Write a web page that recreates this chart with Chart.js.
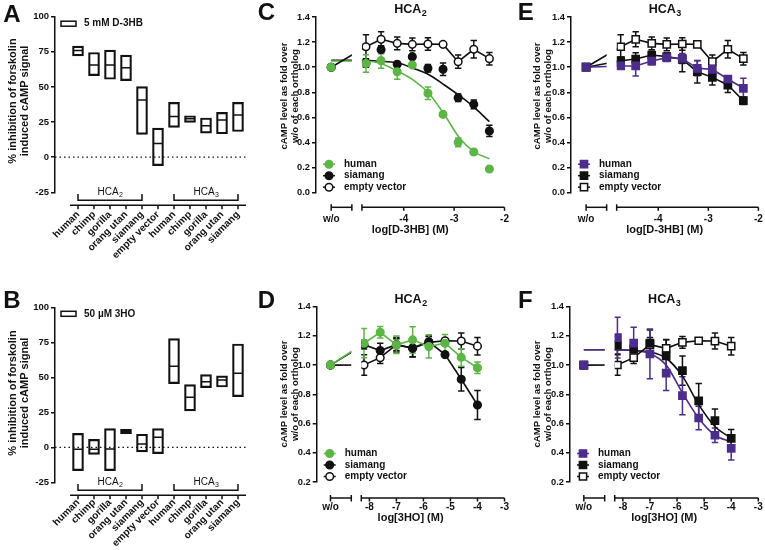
<!DOCTYPE html>
<html>
<head>
<meta charset="utf-8">
<script src="https://cdn.jsdelivr.net/npm/chart.js@4.4.1/dist/chart.umd.min.js"></script>
<style>
  body { margin: 0; background: #fff; }
  #page { position: relative; width: 765px; height: 550px; overflow: hidden; }
  canvas { position: absolute; }
</style>
</head>
<body>
<div id="page">
  <canvas id="cA" width="255" height="275" style="left:0;top:0"></canvas>
  <canvas id="cB" width="255" height="275" style="left:0;top:275px"></canvas>
  <canvas id="cC" width="255" height="275" style="left:255px;top:0"></canvas>
  <canvas id="cD" width="255" height="275" style="left:255px;top:275px"></canvas>
  <canvas id="cE" width="255" height="275" style="left:510px;top:0"></canvas>
  <canvas id="cF" width="255" height="275" style="left:510px;top:275px"></canvas>
</div>
<script>
// ---- panels A / B : % inhibition (min, max, mean boxes)
const orthologs = ['human', 'chimp', 'gorilla', 'orang utan', 'siamang', 'empty vector',
                   'human', 'chimp', 'gorilla', 'orang utan', 'siamang'];
const hbLow  = [72.1, 58.1, 55.5, 54.5, 16.2, -6.0, 21.2, 24.8, 17.1, 16.7, 18.3];
const hbHigh = [79.0, 74.5, 76.2, 72.6, 50.2, 20.7, 39.0, 29.5, 27.9, 31.9, 39.0];
const hbMid  = [76.0, 65.7, 65.7, 63.6, 40.7, 9.8, 29.0, 27.4, 22.4, 26.4, 30.0];
const hoLow  = [-16.7, -5.0, -16.7, 9.8, -3.3, -4.5, 45.5, 26.0, 42.6, 43.1, 36.2];
const hoHigh = [10.0, 5.7, 13.3, 12.9, 9.3, 13.3, 77.6, 44.8, 51.9, 51.0, 73.8];
const hoMid  = [-1.4, -1.4, -1.2, 11.4, 2.4, 7.1, 57.9, 35.7, 46.9, 48.1, 52.9];
const pctTicks = [-25, 0, 25, 50, 75, 100];
const groups = [{from: 0, to: 4, name: 'HCA', sub: '2'}, {from: 6, to: 10, name: 'HCA', sub: '3'}];

// ---- panels C / E : D-3HB dose response
const woLevel = 1.0;
const logHB = [-4.75, -4.45, -4.13, -3.83, -3.52, -3.22, -2.92, -2.61, -2.3];
const hbEmpty       = [1.163, 1.222, 1.19, 1.182, 1.185, 1.182, 1.044, 1.143, 1.068];
const hbEmptyErr    = [0.095, 0.06, 0.05, 0.05, 0.05, 0.015, 0.053, 0.07, 0.05];
const hca2HumanHB   = [1.03, 1.052, 0.964, 1.017, 0.792, 0.624, 0.401, 0.324, 0.189];
const hca2HumanHBErr = [0.07, 0.06, 0.06, 0.01, 0.05, 0.01, 0.035, 0.01, 0.01];
const hca2SiamHB    = [1.03, 1.14, 1.023, 1.084, 0.991, 0.983, 0.757, 0.704, 0.492];
const hca2SiamHBErr = [0.03, 0.03, 0.01, 0.01, 0.03, 0.05, 0.03, 0.035, 0.045];
const hca3HumanHB   = [1.01, 1.01, 1.049, 1.076, 1.07, 0.991, 0.983, 0.906, 0.832];
const hca3HumanHBErr = [0.02, 0.08, 0.03, 0.03, 0.04, 0.06, 0.025, 0.02, 0.08];
const hca3SiamHB    = [1.052, 1.065, 1.097, 1.084, 1.063, 0.964, 0.919, 0.858, 0.733];
const hca3SiamHBErr = [0.03, 0.05, 0.03, 0.03, 0.1, 0.09, 0.06, 0.06, 0.03];
// fitted curves
const fitHBx        = [-5.44, -4.83, -4.5, -4.13, -3.8, -3.5, -3.2, -2.9, -2.6, -2.3];
const fitHca2HumanHB = [1.05, 1.05, 1.035, 0.97, 0.895, 0.79, 0.627, 0.44, 0.325, 0.27];
const fitHca2SiamHB  = [1.055, 1.054, 1.048, 1.035, 0.99, 0.94, 0.86, 0.775, 0.68, 0.566];
const hbTicks = [-4, -3, -2];
const yTicksHB = [0, 0.2, 0.4, 0.6, 0.8, 1.0, 1.2, 1.4];

// ---- panels D / F : 3HO dose response
const logHO = [-8.2, -7.6, -7.0, -6.4, -5.8, -5.2, -4.6, -4.0];
const hoEmpty       = [1.001, 1.051, 1.14, 1.115, 1.156, 1.167, 1.165, 1.13];
const hoEmptyErr    = [0.07, 0.04, 0.05, 0.06, 0.04, 0.015, 0.055, 0.06];
const hca2HumanHO   = [1.15, 1.225, 1.139, 1.173, 1.128, 1.15, 1.053, 0.982];
const hca2HumanHOErr = [0.1, 0.04, 0.06, 0.09, 0.08, 0.06, 0.06, 0.04];
const hca2SiamHO    = [1.14, 1.1, 1.14, 1.117, 1.16, 1.072, 0.903, 0.727];
const hca2SiamHOErr = [0.03, 0.05, 0.04, 0.06, 0.04, 0.02, 0.08, 0.1];
const hca3HumanHO   = [1.188, 1.15, 1.077, 0.946, 0.791, 0.638, 0.52, 0.43];
const hca3HumanHOErr = [0.14, 0.11, 0.17, 0.12, 0.13, 0.08, 0.05, 0.08];
const hca3SiamHO    = [1.137, 1.109, 1.15, 1.063, 0.962, 0.755, 0.62, 0.499];
const hca3SiamHOErr = [0.06, 0.04, 0.09, 0.11, 0.1, 0.12, 0.08, 0.06];
// fitted curves
const fitHOx         = [-9.44, -8.3, -7.6, -7.0, -6.4, -5.8, -5.2, -4.6, -4.0];
const fitHca3HumanHO = [1.105, 1.105, 1.1, 1.08, 1.0, 0.81, 0.636, 0.52, 0.475];
const fitHca3SiamHO  = [1.105, 1.105, 1.1, 1.09, 1.047, 0.925, 0.73, 0.58, 0.5];
const hoTicks = [-8, -7, -6, -5, -4, -3];
const yTicksHO = [0.2, 0.4, 0.6, 0.8, 1.0, 1.2, 1.4];

const BLACK = '#111111', GREEN = '#5cb646', PURPLE = '#4c2d8c';
const FONT = '"Liberation Sans", Arial, Helvetica, sans-serif';
Chart.defaults.font.family = FONT;
Chart.defaults.font.weight = 'bold';
Chart.defaults.color = BLACK;

function subText(ctx, cx, cy, main, sub, size, weight) {
  ctx.font = weight + ' ' + size + 'px ' + FONT;
  const w1 = ctx.measureText(main).width;
  ctx.font = weight + ' ' + Math.round(size * 0.68) + 'px ' + FONT;
  const w2 = ctx.measureText(sub).width;
  const x0 = cx - (w1 + w2) / 2;
  ctx.textAlign = 'left';
  ctx.textBaseline = 'middle';
  ctx.fillStyle = BLACK;
  ctx.font = weight + ' ' + size + 'px ' + FONT;
  ctx.fillText(main, x0, cy);
  ctx.font = weight + ' ' + Math.round(size * 0.68) + 'px ' + FONT;
  ctx.fillText(sub, x0 + w1 + 0.5, cy + size * 0.32);
}

function seg(ctx, x1, y1, x2, y2) {
  ctx.beginPath(); ctx.moveTo(x1, y1); ctx.lineTo(x2, y2); ctx.stroke();
}

const panelPlugin = {
  id: 'panel',
  beforeDatasetsDraw(chart, args, o) {
    const {ctx, chartArea: a, scales: {x, y}} = chart;
    if (o.zeroLine) {
      ctx.save();
      ctx.setLineDash([1.5, 3]);
      ctx.lineWidth = 1.3;
      ctx.strokeStyle = BLACK;
      const yy = y.getPixelForValue(0);
      seg(ctx, a.left, yy, x.getPixelForValue(orthologs.length - 0.5), yy);
      ctx.restore();
    }
    ctx.save();
    if (o.gap) {
      const gl = x.getPixelForValue(o.gap[0]), gr = x.getPixelForValue(o.gap[1]);
      ctx.beginPath();
      ctx.rect(0, 0, gl, chart.height);
      ctx.rect(gr, 0, chart.width - gr, chart.height);
      ctx.clip();
    }
    // error bars under the markers
    for (let i = chart.data.datasets.length - 1; i >= 0; i--) {
      const ds = chart.data.datasets[i];
      if (!ds.errorBars) continue;
      const meta = chart.getDatasetMeta(i);
      ctx.strokeStyle = ds.borderColor;
      ctx.lineWidth = 1.5;
      meta.data.forEach((el, j) => {
        const e = ds.errorBars[j];
        if (!e) return;
        const v = ds.data[j].y;
        const t = y.getPixelForValue(v + e), b = y.getPixelForValue(v - e);
        seg(ctx, el.x, t, el.x, b);
        seg(ctx, el.x - 3.2, t, el.x + 3.2, t);
        seg(ctx, el.x - 3.2, b, el.x + 3.2, b);
      });
    }
  },
  afterDatasetsDraw(chart, args, o) {
    const {ctx, chartArea: a, scales: {x, y}} = chart;
    ctx.restore();
    ctx.save();
    ctx.strokeStyle = BLACK;
    ctx.fillStyle = BLACK;
    ctx.lineWidth = 1.5;

    // panel letter
    ctx.font = 'bold 24px ' + FONT;
    ctx.textAlign = 'center';
    ctx.textBaseline = 'middle';
    ctx.fillText(o.letter, o.letterAt[0], o.letterAt[1]);

    // y axis title (two rotated lines)
    ctx.font = 'bold ' + o.yTitleSize + 'px ' + FONT;
    o.yTitle.forEach((t, k) => {
      ctx.save();
      ctx.translate(o.yTitleX[k], o.yTitleY);
      ctx.rotate(-Math.PI / 2);
      ctx.fillText(t, 0, 0);
      ctx.restore();
    });

    if (o.title) subText(ctx, (a.left + a.right) / 2, a.top - 7, o.title[0], o.title[1], 12.5, 'bold');

    if (o.catAxis) {
      const yb = a.bottom + o.axisDrop;
      const n = orthologs.length;
      seg(ctx, x.getPixelForValue(-0.5), yb, x.getPixelForValue(n - 0.5), yb);
      for (let i = 0; i < n; i++) {
        const px = x.getPixelForValue(i);
        seg(ctx, px, yb, px, yb + 4);
      }
      groups.forEach(g => {
        const x1 = x.getPixelForValue(g.from), x2 = x.getPixelForValue(g.to);
        const yy = a.bottom + o.axisDrop - 5;
        ctx.beginPath();
        ctx.moveTo(x1, a.bottom + 1.7); ctx.lineTo(x1, yy); ctx.lineTo(x2, yy); ctx.lineTo(x2, a.bottom + 1.7);
        ctx.stroke();
        subText(ctx, (x1 + x2) / 2, a.bottom - 0.5, g.name, g.sub, 10, 'normal');
      });
      // legend: box symbol + label
      const ds = chart.data.datasets[0];
      ctx.strokeStyle = ds.borderColor;
      ctx.strokeRect(a.left + 6, a.top + o.legendDy - 2.5, 15, 5);
      ctx.fillStyle = BLACK;
      ctx.font = 'bold 10px ' + FONT;
      ctx.textAlign = 'left';
      ctx.textBaseline = 'middle';
      ctx.fillText(ds.label, a.left + 29, a.top + o.legendDy);
    }

    if (o.gap) {
      const yb = a.bottom + o.axisDrop;
      const p0 = x.getPixelForValue(o.wo), p1 = x.getPixelForValue(o.gap[0]);
      const p2 = x.getPixelForValue(o.gap[1]), p3 = a.right;
      seg(ctx, p0, yb, p1, yb);
      seg(ctx, p2, yb, p3, yb);
      [p0, p1, p2].forEach(p => seg(ctx, p, yb - 3, p, yb + 3.5));
      o.ticks.forEach(v => {
        const p = x.getPixelForValue(v);
        seg(ctx, p, yb, p, yb + 3.5);
      });
      // legend
      const items = chart.data.datasets.filter(d => d.legendLabel);
      items.forEach((d, k) => {
        const yy = a.bottom + o.legendY[k];
        const x0 = a.left + 7, x1 = a.left + 19;
        ctx.strokeStyle = d.borderColor;
        ctx.lineWidth = 1.5;
        seg(ctx, x0, yy, x1, yy);
        ctx.fillStyle = d.backgroundColor;
        Chart.helpers.drawPoint(ctx, {pointStyle: d.pointStyle, radius: d.pointRadius, borderWidth: 1.5, rotation: 0}, (x0 + x1) / 2, yy);
        ctx.fillStyle = BLACK;
        ctx.font = 'bold 10px ' + FONT;
        ctx.textAlign = 'left';
        ctx.textBaseline = 'middle';
        ctx.fillText(d.legendLabel, a.left + 28, yy);
      });
    }
    ctx.restore();
  }
};

function pointSet(label, wo, xs, ys, errs, color, style, open, joined) {
  return {
    type: 'scatter',
    label: label,
    legendLabel: label,
    data: [{x: wo, y: woLevel}].concat(xs.map((v, i) => ({x: v, y: ys[i]}))),
    errorBars: [0].concat(errs),
    showLine: joined,
    borderColor: color,
    borderWidth: 1.6,
    backgroundColor: open ? '#ffffff' : color,
    pointStyle: style,
    pointRadius: style === 'rect' ? 5.1 : 3.8,
    pointBorderWidth: 1.5,
    clip: false
  };
}

function fitSet(color, xs, ys) {
  return {
    type: 'scatter',
    data: xs.map((v, i) => ({x: v, y: ys[i]})),
    showLine: true,
    borderColor: color,
    borderWidth: 1.6,
    pointRadius: 0,
    cubicInterpolationMode: 'monotone',
    clip: false
  };
}

const doseYTitle = ['cAMP level as fold over', 'w/o of each ortholog'];
const pctYTitle = ['% inhibition of forskolin', 'induced cAMP signal'];

// g: canvas W,H and chart area L,T,R,B (canvas px)
function doseChart(id, g, c) {
  return new Chart(document.getElementById(id), {
    type: 'scatter',
    data: {datasets: c.datasets},
    options: {
      responsive: false,
      animation: false,
      events: [],
      layout: {padding: {left: 0, top: g.T, right: g.W - g.R, bottom: 0}},
      plugins: {
        legend: {display: false},
        tooltip: {enabled: false},
        panel: {letter: c.letter, letterAt: c.letterAt, title: c.title, gap: c.gap, wo: c.wo,
                ticks: c.xTicks, axisDrop: c.axisDrop, legendY: [-28.5, -17, -5.5],
                yTitle: doseYTitle, yTitleSize: 9.6, yTitleX: c.yTitleX, yTitleY: c.yTitleY}
      },
      scales: {
        x: {
          type: 'linear', min: c.xMin, max: c.xMax,
          afterBuildTicks: s => { s.ticks = [c.wo].concat(c.xTicks).map(v => ({value: v})); },
          afterFit: s => { s.height = g.H - g.B; s.paddingLeft = 0; s.paddingRight = 0; },
          ticks: {autoSkip: false, maxRotation: 0, padding: c.tickPad, font: {size: 10, weight: 'bold'},
                  callback: v => (v === c.wo ? 'w/o' : String(v))},
          grid: {display: false, drawTicks: false},
          border: {display: false},
          title: {display: true, text: c.xTitle, font: {size: 11, weight: 'bold'},
                  padding: {top: 0, bottom: c.xTitlePad}}
        },
        y: {
          min: c.yTicks[0], max: c.yTicks[c.yTicks.length - 1],
          afterBuildTicks: s => { s.ticks = c.yTicks.map(v => ({value: v})); },
          afterFit: s => { s.width = g.L; s.paddingTop = 0; s.paddingBottom = 0; },
          ticks: {padding: 2, font: {size: 9.3, weight: 'bold'}, callback: v => v.toFixed(1)},
          grid: {drawOnChartArea: false, color: BLACK, lineWidth: 1.5, tickLength: 4},
          border: {color: BLACK, width: 1.5}
        }
      }
    },
    plugins: [panelPlugin]
  });
}

function boxChart(id, g, c) {
  return new Chart(document.getElementById(id), {
    type: 'bar',
    data: {
      datasets: [
        {
          type: 'bar', label: c.label,
          data: c.low.map((v, i) => ({x: i, y: [v, c.high[i]]})),
          backgroundColor: 'rgba(255,255,255,0)', borderColor: BLACK, borderWidth: 1.5,
          borderSkipped: false, barThickness: 11
        },
        {
          type: 'scatter',
          data: c.mid.map((v, i) => ({x: i, y: v})),
          pointStyle: 'line', pointRadius: 5, borderColor: BLACK, borderWidth: 1.5, pointBorderWidth: 1.5
        }
      ]
    },
    options: {
      responsive: false,
      animation: false,
      events: [],
      layout: {padding: {left: 0, top: g.T, right: g.W - g.R, bottom: 0}},
      plugins: {
        legend: {display: false},
        tooltip: {enabled: false},
        panel: {letter: c.letter, letterAt: c.letterAt, catAxis: true, zeroLine: true,
                axisDrop: 13, legendDy: c.legendDy,
                yTitle: pctYTitle, yTitleSize: 11, yTitleX: [12.7, 25], yTitleY: c.yTitleY}
      },
      scales: {
        x: {
          type: 'linear', offset: false, min: -1.4375, max: orthologs.length - 0.5,
          afterBuildTicks: s => { s.ticks = orthologs.map((t, i) => ({value: i})); },
          afterFit: s => { s.height = g.H - g.B; s.paddingLeft = 0; s.paddingRight = 0; },
          ticks: {autoSkip: false, minRotation: 45, maxRotation: 45, padding: c.tickPad,
                  font: {size: 10, weight: 'bold'}, callback: v => orthologs[v]},
          grid: {display: false, drawTicks: false, offset: false},
          border: {display: false}
        },
        y: {
          min: -25, max: 100,
          afterBuildTicks: s => { s.ticks = pctTicks.map(v => ({value: v})); },
          afterFit: s => { s.width = g.L; s.paddingTop = 0; s.paddingBottom = 0; },
          ticks: {padding: 2, font: {size: 9.5, weight: 'bold'}},
          grid: {drawOnChartArea: false, color: BLACK, lineWidth: 1.5, tickLength: 4},
          border: {color: BLACK, width: 1.5}
        }
      }
    },
    plugins: [panelPlugin]
  });
}

boxChart('cA', {W: 255, H: 275, L: 55, T: 16.7, R: 246, B: 192.3},
  {letter: 'A', letterAt: [12, 15], label: '5 mM D-3HB', low: hbLow, high: hbHigh, mid: hbMid,
   legendDy: 7, tickPad: 16.5, yTitleY: 101});
boxChart('cB', {W: 255, H: 275, L: 55, T: 32.3, R: 246, B: 207.3},
  {letter: 'B', letterAt: [12, 26.5], label: '50 \u00b5M 3HO', low: hoLow, high: hoHigh, mid: hoMid,
   legendDy: 6.5, tickPad: 14.5, yTitleY: 118});

const WO_HB = -5.44, WO_HO = -9.44;

doseChart('cC', {W: 255, H: 275, L: 61, T: 17, R: 250.7, B: 192.7}, {
  letter: 'C', letterAt: [11.5, 13], title: ['HCA', '2'],
  xMin: -5.742, xMax: -2, wo: WO_HB, gap: [-5.03, -4.83], xTicks: hbTicks, yTicks: yTicksHB,
  axisDrop: 14.6, tickPad: 20.6, xTitle: 'log[D-3HB] (M)', xTitlePad: 38.4,
  yTitleX: [29, 40], yTitleY: 96,
  datasets: [
    pointSet('human', WO_HB, logHB, hca2HumanHB, hca2HumanHBErr, GREEN, 'circle', false, false),
    pointSet('siamang', WO_HB, logHB, hca2SiamHB, hca2SiamHBErr, BLACK, 'circle', false, false),
    pointSet('empty vector', WO_HB, logHB, hbEmpty, hbEmptyErr, BLACK, 'circle', true, true),
    fitSet(GREEN, fitHBx, fitHca2HumanHB),
    fitSet(BLACK, fitHBx, fitHca2SiamHB)
  ]
});

doseChart('cE', {W: 255, H: 275, L: 61, T: 17, R: 250, B: 192.7}, {
  letter: 'E', letterAt: [15.8, 13], title: ['HCA', '3'],
  xMin: -5.742, xMax: -2, wo: WO_HB, gap: [-5.03, -4.83], xTicks: hbTicks, yTicks: yTicksHB,
  axisDrop: 14.6, tickPad: 20.6, xTitle: 'log[D-3HB] (M)', xTitlePad: 38.4,
  yTitleX: [27, 38], yTitleY: 96,
  datasets: [
    pointSet('human', WO_HB, logHB, hca3HumanHB, hca3HumanHBErr, PURPLE, 'rect', false, true),
    pointSet('siamang', WO_HB, logHB, hca3SiamHB, hca3SiamHBErr, BLACK, 'rect', false, true),
    pointSet('empty vector', WO_HB, logHB, hbEmpty, hbEmptyErr, BLACK, 'rect', true, true)
  ]
});

doseChart('cD', {W: 255, H: 275, L: 61.7, T: 31.7, R: 252.3, B: 207}, {
  letter: 'D', letterAt: [11.5, 26], title: ['HCA', '2'],
  xMin: -9.95, xMax: -3, wo: WO_HO, gap: [-8.67, -8.3], xTicks: hoTicks, yTicks: yTicksHO,
  axisDrop: 16, tickPad: 19.3, xTitle: 'log[3HO] (M)', xTitlePad: 25.1,
  yTitleX: [29, 40], yTitleY: 119,
  datasets: [
    pointSet('human', WO_HO, logHO, hca2HumanHO, hca2HumanHOErr, GREEN, 'circle', false, true),
    pointSet('siamang', WO_HO, logHO, hca2SiamHO, hca2SiamHOErr, BLACK, 'circle', false, true),
    pointSet('empty vector', WO_HO, logHO, hoEmpty, hoEmptyErr, BLACK, 'circle', true, true)
  ]
});

doseChart('cF', {W: 255, H: 275, L: 60, T: 31.7, R: 248.3, B: 207}, {
  letter: 'F', letterAt: [15.3, 26], title: ['HCA', '3'],
  xMin: -9.95, xMax: -3, wo: WO_HO, gap: [-8.67, -8.3], xTicks: hoTicks, yTicks: yTicksHO,
  axisDrop: 16, tickPad: 19.3, xTitle: 'log[3HO] (M)', xTitlePad: 25.1,
  yTitleX: [27, 38], yTitleY: 119,
  datasets: [
    pointSet('human', WO_HO, logHO, hca3HumanHO, hca3HumanHOErr, PURPLE, 'rect', false, false),
    pointSet('siamang', WO_HO, logHO, hca3SiamHO, hca3SiamHOErr, BLACK, 'rect', false, false),
    pointSet('empty vector', WO_HO, logHO, hoEmpty, hoEmptyErr, BLACK, 'rect', true, true),
    fitSet(PURPLE, fitHOx, fitHca3HumanHO),
    fitSet(BLACK, fitHOx, fitHca3SiamHO)
  ]
});
</script>
</body>
</html>
